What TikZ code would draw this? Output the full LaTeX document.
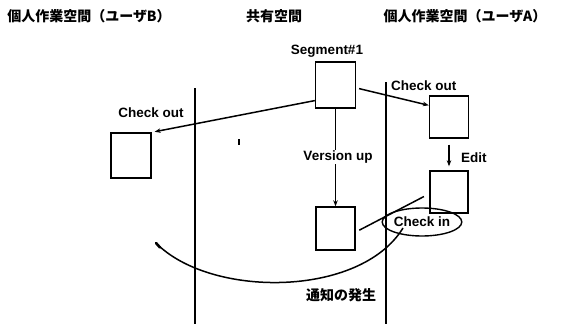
\documentclass[tikz,border=0pt]{standalone}
\usepackage{fontspec}
\setmainfont{Liberation Sans}
\newfontfamily\jp{Noto Sans CJK JP}
\usetikzlibrary{arrows.meta,shapes.geometric}
\begin{document}
\begin{tikzpicture}[x=1pt,y=-1pt,
  box/.style={draw,line width=1.4pt,inner sep=0pt},
  lbl/.style={font=\fontsize{13.5}{14}\selectfont\bfseries,inner sep=1pt},
  hdr/.style={font=\jp\bfseries\fontsize{14}{15}\selectfont,inner sep=0pt},
  ln/.style={line width=1.5pt},
  arr/.style={line width=1.5pt,-{Stealth[length=6pt,width=4.5pt]}},
  wall/.style={line width=1.7pt}]
\useasboundingbox (0,0) rectangle (568,324);
% headers
\node[hdr] (hB) at (89,16) {個人作業空間（ユーザB）};
\node[hdr] (hS) at (274,16) {共有空間};
\node[hdr] (hA) at (465,16) {個人作業空間（ユーザA）};
% walls
\coordinate (wLt) at (195,88);
\coordinate (wLb) at (195,324);
\coordinate (wRt) at (386,82);
\coordinate (wRb) at (386,324);
\draw[wall] (wLt) -- (wLb);
\draw[wall] (wRt) -- (wRb);
% boxes
\node[box,minimum width=40pt,minimum height=46pt] (seg) at (335.5,85) {};
\node[lbl,anchor=south] (segl) at (327,59) {Segment\#1};
\node[box,minimum width=39pt,minimum height=43pt] (low) at (335.5,228.5) {};
\node[box,minimum width=39pt,minimum height=42pt] (bA) at (449,117) {};
\node[box,minimum width=38pt,minimum height=42pt] (ed) at (449,192) {};
\node[box,minimum width=40pt,minimum height=45pt] (bB) at (131,155.5) {};
% version up
\draw[arr] (seg.south) -- (low.north);
\node[lbl,fill=white] (vu) at (338,157) {Version up};
% edit
\draw[arr,shorten <=6pt,shorten >=4pt] (bA.south) -- (ed.north);
\node[lbl,anchor=west] (edl) at (460,158) {Edit};
% check out right
\draw[arr,shorten <=3pt] (seg.-8) -- (bA.150);
\node[lbl,anchor=west] (coA) at (390,86) {Check out};
% check out left
\draw[arr,shorten >=3pt] (seg.217) -- (bB.north east);
\node[lbl] (coB) at (151,113) {Check out};
% tick
\coordinate (tk1) at (239,139);
\coordinate (tk2) at (239,145);
\draw[line width=1.5pt] (tk1) -- (tk2);
% check in
\draw[ln,shorten <=6pt,shorten >=4pt] (ed.185) -- (low.-10);
\node[draw,ellipse,line width=1.4pt,minimum width=70pt,minimum height=28pt,inner sep=0pt,
      font=\fontsize{13.5}{14}\selectfont\bfseries] (ci) at (422,222) {Check in};
% notification curve
\coordinate (cs) at (403,228);
\coordinate (ce) at (156,243);
\draw[ln] (cs) .. controls (360,298) and (210,298) .. (ce);
\draw[line width=2.6pt,line cap=round] (ce) -- (160,247.5);
\node[hdr] (nt) at (341,295) {通知の発生};
\end{tikzpicture}
\end{document}
